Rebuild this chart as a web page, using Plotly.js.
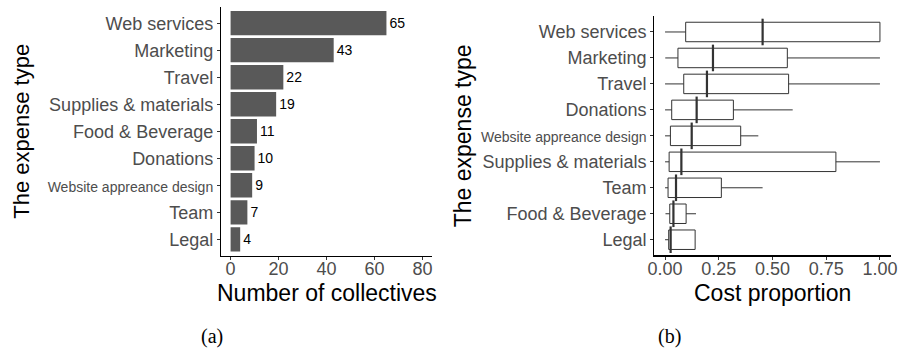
<!DOCTYPE html>
<html>
<head>
<meta charset="utf-8">
<script src="https://cdn.plot.ly/plotly-3.0.1.min.js"></script>
<style>html,body{margin:0;padding:0;background:#fff;} #chart{width:898px;height:356px;}</style>
</head>
<body>
<div id="chart"></div>
<script>
// Panel (a): number of collectives per expense type (top to bottom)
const countCategories = ["Web services", "Marketing", "Travel", "Supplies & materials", "Food & Beverage", "Donations", "Website appreance design", "Team", "Legal"];
const countValues = [65, 43, 22, 19, 11, 10, 9, 7, 4];

// Panel (b): cost proportion box statistics (top to bottom)
const boxCategories = ["Web services", "Marketing", "Travel", "Donations", "Website appreance design", "Supplies & materials", "Team", "Food & Beverage", "Legal"];
const boxLower  = [0.000, 0.001, 0.000, 0.000, 0.000, 0.000, 0.000, 0.002, 0.000];
const boxQ1     = [0.096, 0.060, 0.087, 0.031, 0.025, 0.019, 0.014, 0.022, 0.017];
const boxMedian = [0.454, 0.223, 0.195, 0.147, 0.124, 0.076, 0.051, 0.039, 0.026];
const boxQ3     = [1.000, 0.569, 0.575, 0.318, 0.352, 0.795, 0.262, 0.098, 0.140];
const boxUpper  = [1.000, 1.000, 1.000, 0.594, 0.434, 1.000, 0.454, 0.144, 0.140];

const xTicksA = [0, 20, 40, 60, 80];
const xTicksB = [0, 0.25, 0.5, 0.75, 1.0];

const FONT = "Liberation Sans, Arial, Helvetica, sans-serif";
const SERIF = "Liberation Serif, Times New Roman, serif";
const SMALL = "Website appreance design";
function tickLabel(c) { return c === SMALL ? '<span style="font-size:14px">' + c + '</span>' : c; }

const traces = [
  {
    type: "bar", orientation: "h",
    x: countValues, y: countCategories,
    xaxis: "x", yaxis: "y",
    width: 0.9,
    marker: { color: "#595959" },
    text: countValues.map(String), textposition: "outside",
    textfont: { family: FONT, size: 14, color: "#000" },
    cliponaxis: false, hoverinfo: "skip", showlegend: false
  },
  {
    type: "box", orientation: "h",
    y: boxCategories,
    q1: boxQ1, median: boxMedian, q3: boxQ3,
    lowerfence: boxLower, upperfence: boxUpper,
    xaxis: "x2", yaxis: "y2",
    width: 0.75, whiskerwidth: 0,
    fillcolor: "#ffffff",
    line: { color: "#333333", width: 1 },
    boxpoints: false, hoverinfo: "skip", showlegend: false
  },
  {
    type: "scatter", mode: "markers",
    x: boxMedian, y: boxCategories,
    xaxis: "x2", yaxis: "y2",
    marker: { symbol: "line-ns", size: 19, line: { color: "#333333", width: 2.2 } },
    hoverinfo: "skip", showlegend: false, cliponaxis: false
  }
];

const axisCommon = {
  showgrid: false, zeroline: false, showline: true,
  linecolor: "#000", linewidth: 1.2,
  ticks: "outside", ticklen: 3, tickwidth: 1, tickcolor: "#333",
  tickfont: { family: FONT, size: 18, color: "#4d4d4d" },
  fixedrange: true
};

const layout = {
  width: 898, height: 356,
  margin: { l: 0, r: 0, t: 0, b: 0 },
  paper_bgcolor: "#fff", plot_bgcolor: "#fff",
  font: { family: FONT },
  showlegend: false,
  xaxis: Object.assign({}, axisCommon, {
    domain: [221/898, 432/898], anchor: "y",
    range: [-4, 84], tickvals: xTicksA, ticklabelstandoff: -6
  }),
  yaxis: Object.assign({}, axisCommon, {
    domain: [1 - 255.5/356, 1 - 7/356], anchor: "x",
    type: "category", categoryorder: "array", categoryarray: countCategories,
    range: [countCategories.length - 0.4, -0.6],
    tickvals: countCategories, ticktext: countCategories.map(tickLabel),
    title: { text: "The expense type", font: { family: FONT, size: 22, color: "#000" }, standoff: 12 }
  }),
  xaxis2: Object.assign({}, axisCommon, {
    domain: [654.3/898, 890.7/898], anchor: "y2",
    range: [-0.05, 1.05], tickvals: xTicksB, tickformat: ".2f", ticklabelstandoff: -6
  }),
  yaxis2: Object.assign({}, axisCommon, {
    domain: [1 - 255.3/356, 1 - 16.4/356], anchor: "x2",
    type: "category", categoryorder: "array", categoryarray: boxCategories,
    range: [boxCategories.length - 0.4, -0.6],
    tickvals: boxCategories, ticktext: boxCategories.map(tickLabel),
    title: { text: "The expense type", font: { family: FONT, size: 23, color: "#000" }, standoff: 3 }
  }),
  annotations: [
    { text: "Number of collectives", xref: "x domain", yref: "paper", x: 0.5, y: 1 - 292.5/356, xanchor: "center", yanchor: "middle", showarrow: false, font: { family: FONT, size: 23, color: "#000" } },
    { text: "Cost proportion", xref: "x2 domain", yref: "paper", x: 0.5, y: 1 - 292.5/356, xanchor: "center", yanchor: "middle", showarrow: false, font: { family: FONT, size: 23, color: "#000" } },
    { text: "(a)", xref: "paper", yref: "paper", x: 211.5/898, y: 1 - 336/356, xanchor: "center", yanchor: "middle", showarrow: false, font: { family: SERIF, size: 20, color: "#000" } },
    { text: "(b)", xref: "paper", yref: "paper", x: 669/898, y: 1 - 336/356, xanchor: "center", yanchor: "middle", showarrow: false, font: { family: SERIF, size: 20, color: "#000" } }
  ]
};

Plotly.newPlot("chart", traces, layout, { staticPlot: true, displayModeBar: false });
</script>
</body>
</html>
